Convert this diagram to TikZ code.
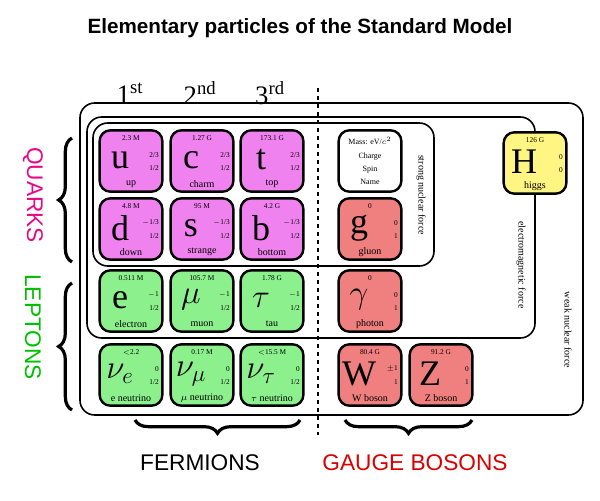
\documentclass[tikz,border=0pt]{standalone}
\usepackage{fontspec}
\setmainfont{Liberation Serif}
\newfontfamily\headfont{Liberation Sans}
\usetikzlibrary{decorations.pathreplacing}
\definecolor{quarkpink}{RGB}{240,130,240}
\definecolor{leptongreen}{RGB}{140,240,140}
\definecolor{bosonred}{RGB}{240,128,128}
\definecolor{higgsyellow}{RGB}{255,245,130}
\tikzset{
  card/.style={draw, line width=1.8pt, rounded corners=8pt, minimum width=47pt, minimum height=46pt, inner sep=0pt},
  force/.style={draw, line width=1.2pt, rounded corners=11pt},
  tiny/.style={font=\fontsize{5.5}{6}\selectfont, inner sep=0pt},
  pname/.style={font=\fontsize{7.5}{8}\selectfont, inner sep=0pt},
  sym/.style={font=\fontsize{27}{27}\selectfont, inner sep=0pt},
  brc/.style={decorate, decoration={brace, amplitude=10pt}, line width=2.4pt},
}
% name, x, y, colour, mass, charge, spin, symbol, label
\newcommand\particle[9]{%
  \node[card, fill=#4] (#1) at (#2,#3) {};
  \node[tiny] (#1-m) at (#2,{#3-23}) {#5};
  \node[sym] (#1-s) at ({#2-11},{#3-1}) {#8};
  \node[tiny, anchor=east] (#1-q) at ({#2+28},{#3-6}) {#6};
  \node[tiny, anchor=east] (#1-j) at ({#2+28},{#3+7}) {#7};
  \node[pname] (#1-n) at (#2,{#3+23}) {#9};
}
\begin{document}
\begin{tikzpicture}[x=0.75pt, y=-0.75pt]
\useasboundingbox (0,0) rectangle (600,500);
\node[font=\headfont\bfseries\fontsize{15.5}{17}\selectfont] (title) at (300,28) {Elementary particles of the Standard Model};
\node[font=\fontsize{20}{20}\selectfont] (gen1) at (130,93) {1\textsuperscript{st}};
\node[font=\fontsize{20}{20}\selectfont] (gen2) at (200,93) {2\textsuperscript{nd}};
\node[font=\fontsize{20}{20}\selectfont] (gen3) at (270,93) {3\textsuperscript{rd}};
% force boxes
\draw[force] (80,103) rectangle (583,415);
\draw[force] (87,117) rectangle (535,338);
\draw[force] (93,123) rectangle (434,266);
\node[pname, rotate=-90] (strong) at (421,195) {strong nuclear force};
\node[pname, rotate=-90] (em) at (521,265) {electromagnetic force};
\node[pname, rotate=-90] (weak) at (568,330) {weak nuclear force};
\draw[dashed, line width=0.9pt] (318,88) -- (318,435);
% quarks
\particle{up}{131}{161}{quarkpink}{2.3 M}{2/3}{1/2}{u}{up}
\particle{charm}{202}{161}{quarkpink}{1.27 G}{2/3}{1/2}{c}{charm}
\particle{top}{272}{161}{quarkpink}{173.1 G}{2/3}{1/2}{t}{top}
\particle{down}{131}{229}{quarkpink}{4.8 M}{$-$1/3}{1/2}{d}{down}
\particle{strange}{202}{229}{quarkpink}{95 M}{$-$1/3}{1/2}{s}{strange}
\particle{bottom}{272}{229}{quarkpink}{4.2 G}{$-$1/3}{1/2}{b}{bottom}
% leptons
\particle{electron}{131}{301}{leptongreen}{0.511 M}{$-$1}{1/2}{e}{electron}
\particle{muon}{202}{301}{leptongreen}{105.7 M}{$-$1}{1/2}{$\mu$}{muon}
\particle{tau}{272}{301}{leptongreen}{1.78 G}{$-$1}{1/2}{$\tau$}{tau}
\particle{enu}{131}{375}{leptongreen}{$<$2.2}{0}{1/2}{$\nu_e$}{e neutrino}
\particle{munu}{202}{375}{leptongreen}{0.17 M}{0}{1/2}{$\nu_\mu$}{$\mu$ neutrino}
\particle{taunu}{272}{375}{leptongreen}{$<$15.5 M}{0}{1/2}{$\nu_\tau$}{$\tau$ neutrino}
% bosons
\node[card, fill=white, align=center, font=\fontsize{6}{10}\selectfont] (legend) at (370,161) {Mass: eV/$c^2$\\Charge\\Spin\\Name};
\particle{gluon}{370}{229}{bosonred}{0}{0}{1}{g}{gluon}
\particle{photon}{370}{301}{bosonred}{0}{0}{1}{$\gamma$}{photon}
\particle{wboson}{370}{375}{bosonred}{80.4 G}{$\pm$1}{1}{W}{W boson}
\particle{zboson}{441}{375}{bosonred}{91.2 G}{0}{1}{Z}{Z boson}
\particle{higgs}{535}{163}{higgsyellow}{126 G}{0}{0}{H}{higgs}
% group labels
\node[font=\headfont\fontsize{17}{18}\selectfont, text=magenta!90!purple, rotate=-90] (quarks) at (33,195) {QUARKS};
\node[font=\headfont\fontsize{17}{18}\selectfont, text=green!75!black, rotate=-90] (leptons) at (33,327) {LEPTONS};
\draw[brc] (72,262) -- (72,138);
\draw[brc] (72,410) -- (72,283);
\draw[brc] (300,420) -- (135,420);
\draw[brc] (472,420) -- (345,420);
\node[font=\headfont\fontsize{17}{18}\selectfont] (fermions) at (200,463) {FERMIONS};
\node[font=\headfont\fontsize{17}{18}\selectfont, text=red!85!black] (gauge) at (415,463) {GAUGE BOSONS};
\end{tikzpicture}
\end{document}
